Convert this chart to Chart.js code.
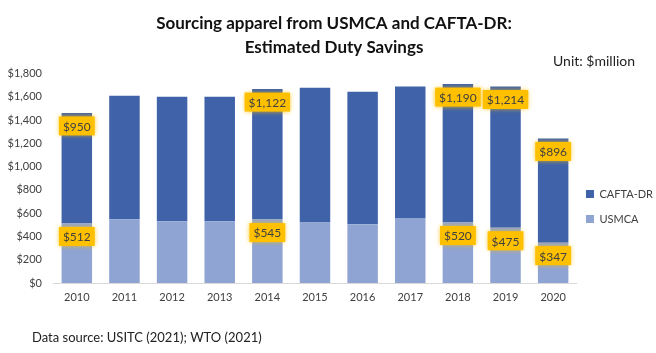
<!DOCTYPE html>
<html><head><meta charset="utf-8">
<script src="https://cdn.jsdelivr.net/npm/chart.js@4/dist/chart.umd.min.js"></script>
<style>html,body{margin:0;padding:0;background:#fff;}#wrap{width:656px;height:353px;}</style>
</head><body><div id="wrap"><canvas id="c" width="656" height="353"></canvas></div>
<script>
const categories = ['2010','2011','2012','2013','2014','2015','2016','2017','2018','2019','2020'];
const usmca = [512, 547, 530, 530, 545, 521, 504, 558, 520, 475, 347];
const caftaDr = [950, 1063, 1071, 1070, 1122, 1157, 1140, 1131, 1190, 1214, 896];
const usmcaLabels = [512, null, null, null, 545, null, null, null, 520, 475, 347];
const caftaLabels = [950, null, null, null, 1122, null, null, null, 1190, 1214, 896];
const yTicks = [0, 200, 400, 600, 800, 1000, 1200, 1400, 1600, 1800];

const FONT = 'Lato, "Open Sans", sans-serif';
const fmt = v => '$' + v.toLocaleString('en-US');

const labelPlugin = {
  id: 'boxLabels',
  afterDatasetsDraw(chart) {
    const ctx = chart.ctx;
    const sets = [usmcaLabels, caftaLabels];
    ctx.save();
    ctx.font = '12px ' + FONT;
    ctx.textAlign = 'center';
    ctx.textBaseline = 'middle';
    sets.forEach((labels, di) => {
      const meta = chart.getDatasetMeta(di);
      meta.data.forEach((el, j) => {
        const v = labels[j];
        if (v == null) return;
        const t = fmt(v);
        const w = ctx.measureText(t).width + 8;
        const h = 19;
        const cx = el.x, cy = el.y + 13;
        ctx.save();
        ctx.shadowColor = 'rgba(255,192,0,0.9)';
        ctx.shadowBlur = 5;
        ctx.fillStyle = '#FFC000';
        ctx.fillRect(cx - w / 2, cy - h / 2, w, h);
        ctx.restore();
        ctx.fillStyle = '#404040';
        ctx.fillText(t, cx, cy + 1);
      });
    });
    ctx.restore();
  }
};

const textPlugin = {
  id: 'extraText',
  afterLayout(chart) {
    if (chart.legend) { chart.legend.left -= 5; chart.legend.right -= 5; }
  },
  afterDraw(chart) {
    const ctx = chart.ctx;
    ctx.save();
    ctx.fillStyle = '#222';
    ctx.textBaseline = 'middle';
    ctx.textAlign = 'left';
    ctx.font = '14px ' + FONT;
    ctx.fillText('Unit: $million', 553, 61);
    ctx.font = '13px ' + FONT;
    ctx.fillText('Data source: USITC (2021); WTO (2021)', 32, 338);
    ctx.restore();
  }
};

new Chart(document.getElementById('c'), {
  type: 'bar',
  data: {
    labels: categories,
    datasets: [
      { label: 'USMCA', data: usmca, backgroundColor: '#8FA4D3', stack: 's' },
      { label: 'CAFTA-DR', data: caftaDr, backgroundColor: '#3F62A9', stack: 's' }
    ]
  },
  options: {
    responsive: false,
    animation: false,
    devicePixelRatio: 1,
    layout: { padding: { left: 0, right: -12, top: 4, bottom: 0 } },
    datasets: { bar: { barPercentage: 0.64, categoryPercentage: 1 } },
    scales: {
      x: {
        stacked: true,
        grid: { display: false, drawTicks: false },
        border: { display: true, color: '#D9D9D9', width: 1 },
        ticks: { color: '#404040', font: { family: FONT, size: 11 }, padding: 8 },
        afterFit(axis) { axis.height = 70; }
      },
      y: {
        stacked: true,
        min: 0, max: 1800,
        afterBuildTicks(axis) { axis.ticks = yTicks.map(v => ({ value: v })); },
        grid: { display: false, drawTicks: false },
        border: { display: false },
        ticks: { color: '#404040', font: { family: FONT, size: 11 }, padding: 11, callback: v => fmt(v) },
        afterFit(axis) { axis.width = 53; }
      }
    },
    plugins: {
      title: {
        display: true,
        text: ['Sourcing apparel from USMCA and CAFTA-DR:', 'Estimated Duty Savings'],
        color: '#111',
        font: { family: FONT, size: 17, weight: 'bold', lineHeight: 1.4 },
        padding: { top: 8, bottom: 14 }
      },
      legend: {
        position: 'right',
        reverse: true,
        title: { display: true, text: ' ', font: { family: FONT, size: 12, lineHeight: 1.2 }, padding: { top: 0, bottom: 41.6 } },
        labels: { color: '#404040', font: { family: FONT, size: 11 }, boxWidth: 8, boxHeight: 8, padding: 14 }
      },
      tooltip: { enabled: false }
    }
  },
  plugins: [labelPlugin, textPlugin]
});
</script></body></html>
